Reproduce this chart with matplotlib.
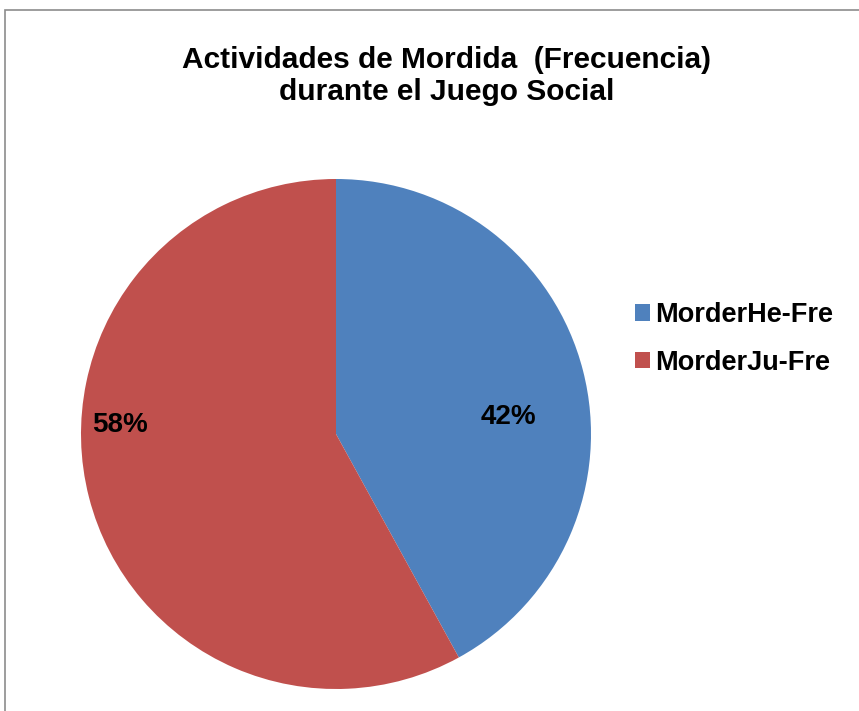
import matplotlib
matplotlib.use("Agg")
import matplotlib.pyplot as plt
from matplotlib.patches import Rectangle

labels = ["MorderHe-Fre", "MorderJu-Fre"]
values = [42, 58]
colors = ["#4F81BD", "#C0504D"]
title = "Actividades de Mordida  (Frecuencia)\ndurante el Juego Social"

W, H = 859, 711
fig = plt.figure(figsize=(W / 100, H / 100), dpi=100)
fig.patch.set_facecolor("white")

# outer chart frame
fig.add_artist(Rectangle((5 / W, -0.05), 1.2, 1 - 10 / H + 0.05, transform=fig.transFigure,
                         fill=False, edgecolor="#8c8c8c", linewidth=1.2))

cx, cy, r = 336, 434, 255
ax = fig.add_axes([(cx - r) / W, 1 - (cy + r) / H, 2 * r / W, 2 * r / H])
wedges, texts, autotexts = ax.pie(values, colors=colors, startangle=90, counterclock=False,
                                  autopct="%1.0f%%", pctdistance=0.7,
                                  wedgeprops=dict(edgecolor="none"),
                                  textprops=dict(fontsize=20, fontweight="bold",
                                                 family="Liberation Sans", color="black"))
ax.set_aspect("equal")
ax.set_xlim(-1, 1)
ax.set_ylim(-1, 1)
# label positions
autotexts[0].set_position(((508 - cx) / r, (cy - 417) / r))
autotexts[1].set_position(((120 - cx) / r, (cy - 425) / r))

fig.text(447 / W, 1 - 76 / H, title, ha="center", va="center", fontsize=21.5,
         fontweight="bold", family="Liberation Sans", linespacing=1.15)

leg = fig.legend(wedges, labels, loc="center left", bbox_to_anchor=(635 / W, 1 - 339 / H),
                 frameon=False, prop=dict(family="Liberation Sans", weight="bold", size=19.5),
                 handlelength=0.55, handleheight=0.55, handletextpad=0.2, labelspacing=0.8,
                 borderaxespad=0, borderpad=0)

fig.savefig("out.png", dpi=100)
